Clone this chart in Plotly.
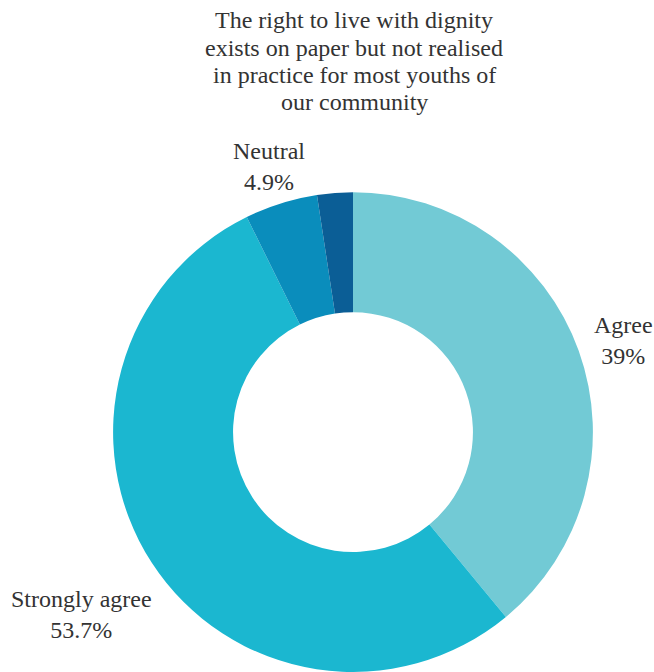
import plotly.graph_objects as go

# Survey responses for one statement
labels = ["Agree", "Strongly agree", "Neutral", "Disagree"]
values = [39.0, 53.7, 4.9, 2.4]
colors = ["#72CAD5", "#1BB7D0", "#0A8DBC", "#0B5E96"]
shown = [True, True, True, False]

title_lines = [
    "The right to live with dignity",
    "exists on paper but not realised",
    "in practice for most youths of",
    "our community",
]

W, H = 654, 672
font_family = "Liberation Serif, Times New Roman, serif"
text_color = "#333333"
font_size = 24

fig = go.Figure(
    go.Pie(
        labels=labels,
        values=values,
        hole=0.5,
        sort=False,
        direction="clockwise",
        rotation=0,
        marker=dict(colors=colors, line=dict(width=0)),
        textinfo="none",
        hoverinfo="label+percent",
        showlegend=False,
        domain=dict(x=[0.1728, 0.9067], y=[0.0, 0.714]),
    )
)

# Slice labels placed beside the ring (pixel centres)
label_pos = {
    "Agree": (623, 340),
    "Strongly agree": (82, 614),
    "Neutral": (269, 166),
}
annotations = []
for lab, val, show in zip(labels, values, shown):
    if not show:
        continue
    px, py = label_pos[lab]
    annotations.append(
        dict(
            x=px / W, y=1 - py / H, xref="paper", yref="paper",
            text=f"{lab}<br>{val:g}%",
            showarrow=False, xanchor="center", yanchor="middle",
            align="center",
            font=dict(family=font_family, size=font_size, color=text_color),
        )
    )

# Title, one line per annotation for tighter leading
for i, line in enumerate(title_lines):
    annotations.append(
        dict(
            x=354 / W, y=1 - (20 + 27.5 * i) / H, xref="paper", yref="paper",
            text=line,
            showarrow=False, xanchor="center", yanchor="middle", align="center",
            font=dict(family=font_family, size=font_size, color=text_color),
        )
    )

fig.update_layout(
    width=W, height=H,
    margin=dict(l=0, r=0, t=0, b=0),
    paper_bgcolor="white", plot_bgcolor="white",
    font=dict(family=font_family),
    annotations=annotations,
)

fig.write_html("out.html")
